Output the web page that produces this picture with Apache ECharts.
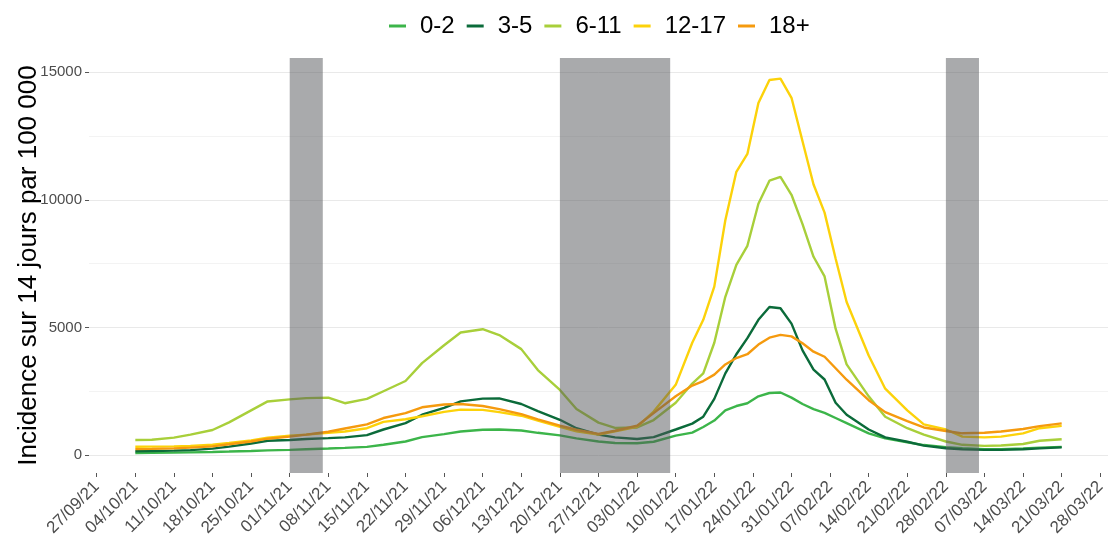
<!DOCTYPE html>
<html>
<head>
<meta charset="utf-8">
<script src="https://cdn.jsdelivr.net/npm/echarts@6/dist/echarts.min.js"></script>
<style>
  html, body { margin: 0; padding: 0; background: #ffffff; }
  #chart { width: 1108px; height: 545px; }
</style>
</head>
<body>
<div id="chart"></div>
<script>
// ---------- DATA ----------
const dates = [
  '2021-10-04','2021-10-07','2021-10-11','2021-10-14','2021-10-18','2021-10-21','2021-10-25','2021-10-28',
  '2021-11-01','2021-11-04','2021-11-08','2021-11-11','2021-11-15','2021-11-18','2021-11-22','2021-11-25',
  '2021-11-29','2021-12-02','2021-12-06','2021-12-09','2021-12-13','2021-12-16','2021-12-20','2021-12-23',
  '2021-12-27','2021-12-30','2022-01-03','2022-01-06','2022-01-10','2022-01-13','2022-01-15','2022-01-17',
  '2022-01-19','2022-01-21','2022-01-23','2022-01-25','2022-01-27','2022-01-29','2022-01-31','2022-02-02',
  '2022-02-04','2022-02-06','2022-02-08','2022-02-10','2022-02-14','2022-02-17','2022-02-21','2022-02-24',
  '2022-02-28','2022-03-03','2022-03-07','2022-03-10','2022-03-14','2022-03-17','2022-03-21'
];

const age0_2 = [
  80, 85, 95, 105, 120, 135, 160, 180,
  200, 225, 255, 280, 320, 400, 530, 700,
  820, 920, 990, 1000, 960, 870, 770, 650,
  530, 470, 460, 520, 760, 880, 1100, 1350,
  1750, 1920, 2030, 2300, 2430, 2450, 2250, 2000,
  1800, 1650, 1450, 1250, 850, 650, 500, 390,
  310, 270, 230, 230, 260, 290, 320
];
const age3_5 = [
  150, 155, 170, 190, 250, 330, 450, 560,
  590, 630, 660, 690, 780, 1000, 1250, 1580,
  1850, 2100, 2210, 2220, 2000, 1720, 1380, 1050,
  800, 690, 630, 700, 1000, 1230, 1500, 2200,
  3200, 3950, 4580, 5300, 5800, 5750, 5150, 4100,
  3350, 2960, 2050, 1580, 1000, 690, 520, 370,
  265, 220, 200, 200, 225, 260, 300
];
const age6_11 = [
  590, 600, 680, 800, 980, 1280, 1750, 2100,
  2180, 2230, 2250, 2030, 2200, 2500, 2900, 3600,
  4300, 4800, 4930, 4700, 4150, 3330, 2550, 1800,
  1270, 1060, 1080, 1370, 2050, 2800, 3200, 4400,
  6200, 7450, 8200, 9850, 10750, 10900, 10200, 9050,
  7770, 7000, 4950, 3550, 2300, 1500, 1050, 800,
  530, 400, 360, 370, 430, 560, 620
];
const age12_17 = [
  325, 330, 340, 360, 400, 470, 570, 680,
  760, 800, 870, 920, 1050, 1300, 1400, 1520,
  1690, 1780, 1770, 1680, 1540, 1350, 1100, 930,
  800, 930, 1100, 1700, 2750, 4400, 5300, 6600,
  9200, 11100, 11800, 13800, 14700, 14750, 14000, 12300,
  10600, 9500, 7700, 6000, 3900, 2600, 1750, 1200,
  1000, 720, 690, 720, 850, 1050, 1140
];
const age18p = [
  230, 240, 260, 290, 340, 420, 530, 640,
  720, 800, 910, 1040, 1200, 1450, 1640, 1870,
  1980, 2000, 1920, 1800, 1600, 1400, 1150, 990,
  830, 950, 1150, 1640, 2300, 2720, 2900, 3150,
  3550, 3800, 3950, 4330, 4600, 4710, 4650, 4380,
  4050, 3850, 3400, 2950, 2150, 1680, 1330, 1080,
  940, 850, 870, 920, 1020, 1130, 1240
];

const seriesNames = ['0-2', '3-5', '6-11', '12-17', '18+'];
const seriesColors = ['#3cb54a', '#0b6b3a', '#a8cf3a', '#fcd20a', '#f59a0e'];

const tickDates = [
  '2021-09-27','2021-10-04','2021-10-11','2021-10-18','2021-10-25','2021-11-01','2021-11-08',
  '2021-11-15','2021-11-22','2021-11-29','2021-12-06','2021-12-13','2021-12-20','2021-12-27',
  '2022-01-03','2022-01-10','2022-01-17','2022-01-24','2022-01-31','2022-02-07','2022-02-14',
  '2022-02-21','2022-02-28','2022-03-07','2022-03-14','2022-03-21','2022-03-28'
];
const yTicks = [0, 5000, 10000, 15000];
const yMinorTicks = [2500, 7500, 12500];

const holidayStart = ['2021-11-01', '2021-12-20', '2022-02-28'];
const holidayEnd   = ['2021-11-07', '2022-01-09', '2022-03-06'];

// ---------- HELPERS ----------
function ts(s) { const p = s.split('-').map(Number); return Date.UTC(p[0], p[1] - 1, p[2]); }
function pad(n) { return (n < 10 ? '0' : '') + n; }
function fmt(v) {
  const d = new Date(v);
  return pad(d.getUTCDate()) + '/' + pad(d.getUTCMonth() + 1) + '/' + pad(d.getUTCFullYear() % 100);
}

const xs = dates.map(ts);
const firstX = xs[0], lastX = xs[xs.length - 1];
const span = lastX - firstX;
const xMin = firstX - span * 0.05;
const xMax = lastX + span * 0.05;
const tickTs = tickDates.map(ts);

const allSeries = [age0_2, age3_5, age6_11, age12_17, age18p];
const yMin = -705, yMax = 15560;
const FONT = 'Liberation Sans, Arial, sans-serif';

const lineSeries = allSeries.map((arr, i) => ({
  name: seriesNames[i],
  type: 'line',
  data: arr.map((v, j) => [xs[j], v]),
  showSymbol: false,
  symbol: 'none',
  lineStyle: { width: 2.4, color: seriesColors[i] },
  itemStyle: { color: seriesColors[i] },
  z: 2,
  silent: true
}));

const holidaySeries = {
  name: 'vacances',
  type: 'custom',
  z: 10,
  silent: true,
  data: holidayStart.map((s, i) => [ts(s), ts(holidayEnd[i])]),
  encode: { x: [0, 1] },
  renderItem: function (params, api) {
    const a = api.coord([api.value(0), 0]);
    const b = api.coord([api.value(1), 0]);
    const cs = params.coordSys;
    return {
      type: 'rect',
      shape: { x: a[0], y: cs.y, width: b[0] - a[0], height: cs.height },
      style: { fill: 'rgba(83,86,89,0.5)' }
    };
  }
};

const chart = echarts.init(document.getElementById('chart'), null, { renderer: 'canvas' });
chart.setOption({
  animation: false,
  backgroundColor: '#ffffff',
  textStyle: { fontFamily: FONT },
  legend: {
    data: seriesNames,
    left: 389,
    top: 14,
    padding: 0,
    icon: 'rect',
    itemWidth: 17,
    itemHeight: 3,
    itemGap: 12,
    textStyle: { fontSize: 24, color: '#000000', padding: [0, 0, 0, 9], fontFamily: FONT }
  },
  grid: { left: 89, right: 0, top: 58, bottom: 72, containLabel: false, outerBoundsMode: 'none' },
  xAxis: {
    type: 'value',
    min: xMin,
    max: xMax,
    axisLine: { show: false, onZero: false },
    axisTick: { show: true, customValues: tickTs, length: 4, lineStyle: { color: '#555555', width: 1 } },
    axisLabel: {
      customValues: tickTs,
      formatter: function (v) { return fmt(v); },
      rotate: 45,
      fontSize: 17,
      color: '#4d4d4d',
      margin: 11,
      hideOverlap: false
    },
    splitLine: { show: false }
  },
  yAxis: [{
    type: 'value',
    min: yMin,
    max: yMax,
    name: 'Incidence sur 14 jours par 100 000',
    nameLocation: 'middle',
    nameGap: 47,
    nameMoveOverlap: false,
    nameTextStyle: { fontSize: 26, color: '#000000', fontFamily: FONT },
    axisLine: { show: false },
    axisTick: { show: true, customValues: yTicks, length: 4, lineStyle: { color: '#555555', width: 1 } },
    axisLabel: {
      customValues: yTicks,
      formatter: function (v) { return String(v); },
      fontSize: 15,
      color: '#4d4d4d',
      margin: 7
    },
    splitLine: { show: true, lineStyle: { color: '#e9e9e9', width: 1 } }
  }, {
    type: 'value',
    min: yMin,
    max: yMax,
    position: 'left',
    axisLine: { show: false },
    axisTick: { show: false, customValues: yMinorTicks },
    axisLabel: { show: false, customValues: yMinorTicks },
    splitLine: { show: true, lineStyle: { color: '#f3f3f3', width: 1 } }
  }],
  series: lineSeries.concat([holidaySeries])
});
</script>
</body>
</html>
